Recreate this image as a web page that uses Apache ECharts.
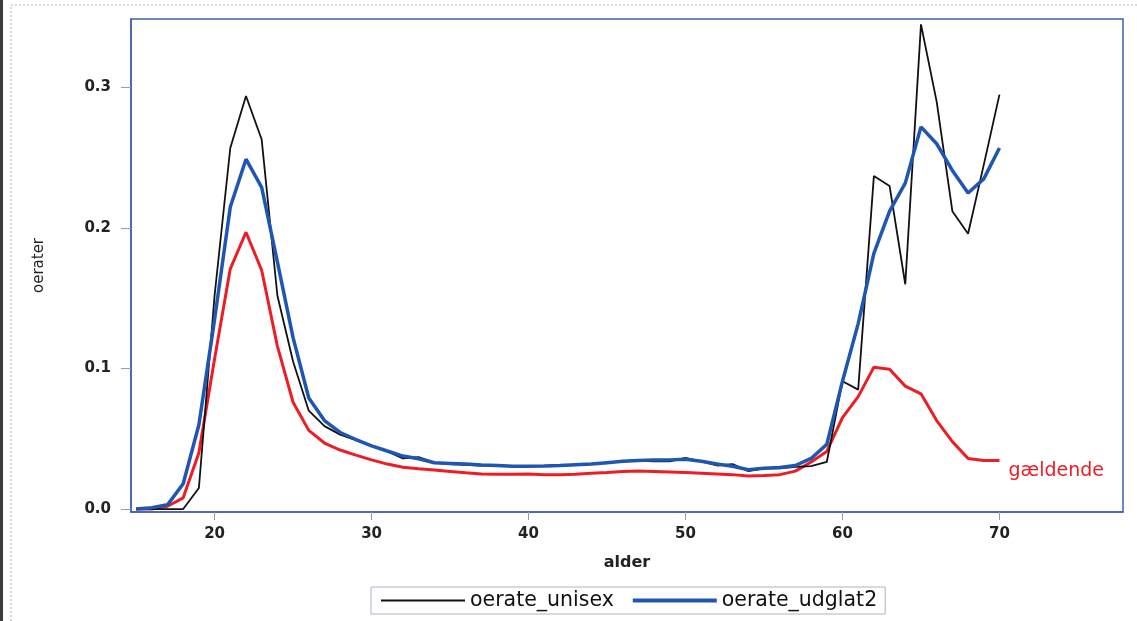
<!DOCTYPE html>
<html>
<head>
<meta charset="utf-8">
<script src="https://cdn.jsdelivr.net/npm/echarts@6/dist/echarts.min.js"></script>
<style>
html,body{margin:0;padding:0;background:#fff;}
#chart{width:1137px;height:621px;}
</style>
</head>
<body>
<div id="chart"></div>
<script>
// ages (x categories)
var ages = [15,16,17,18,19,20,21,22,23,24,25,26,27,28,29,30,31,32,33,34,35,36,37,38,39,40,41,42,43,44,45,46,47,48,49,50,51,52,53,54,55,56,57,58,59,60,61,62,63,64,65,66,67,68,69,70];

var oerateUnisex = [0,0,0,0,0.015,0.152,0.257,0.294,0.263,0.152,0.105,0.070,0.059,0.053,0.049,0.045,0.041,0.036,0.037,0.033,0.032,0.0315,0.031,0.031,0.0305,0.0305,0.0305,0.031,0.0315,0.032,0.033,0.034,0.0345,0.034,0.034,0.0365,0.034,0.031,0.032,0.027,0.029,0.029,0.030,0.0306,0.0335,0.091,0.085,0.237,0.230,0.160,0.345,0.290,0.212,0.196,0.245,0.295];

var oerateUdglat2 = [0,0.001,0.003,0.018,0.060,0.135,0.215,0.249,0.229,0.176,0.122,0.079,0.063,0.0545,0.0495,0.045,0.0413,0.0377,0.0358,0.033,0.0325,0.032,0.0313,0.031,0.0305,0.0305,0.0306,0.031,0.0315,0.032,0.033,0.034,0.0345,0.035,0.035,0.0355,0.034,0.032,0.0305,0.028,0.029,0.0295,0.031,0.036,0.046,0.091,0.132,0.182,0.212,0.232,0.272,0.260,0.241,0.225,0.235,0.257];

var gaeldende = [0,0,0.002,0.008,0.040,0.107,0.171,0.197,0.170,0.116,0.076,0.056,0.047,0.042,0.0384,0.035,0.032,0.0297,0.0287,0.0278,0.0268,0.0258,0.025,0.0247,0.0247,0.025,0.0245,0.0245,0.0247,0.0255,0.026,0.0268,0.027,0.0267,0.0264,0.026,0.0255,0.025,0.0245,0.0235,0.0238,0.0245,0.027,0.0335,0.041,0.065,0.080,0.101,0.0995,0.0875,0.082,0.063,0.048,0.036,0.0345,0.0345];

var xTicks = [20,30,40,50,60,70];
var yTicks = [0,0.1,0.2,0.3];

function pairs(vals){ return ages.map(function(a,i){ return [a, vals[i]]; }); }

var chart = echarts.init(document.getElementById('chart'), null, {renderer:'canvas'});
var axisBlue = '#3f63a5';
var tickCol = '#8c9cc2';
var tickFont = {fontFamily:'DejaVu Sans', fontWeight:'bold', fontSize:15, color:'#222'};

chart.setOption({
  animation:false,
  backgroundColor:'#ffffff',
  graphic:[
    {type:'rect', shape:{x:11,y:5,width:1200,height:700}, style:{fill:'none', stroke:'#a3b2cf', lineWidth:1, lineDash:[2,2]}, silent:true, z:-1},
    {type:'rect', shape:{x:0,y:0,width:3,height:621}, style:{fill:'#3c3c3c'}, silent:true}
  ],
  grid:{left:131, top:19, width:992, height:493, show:true, borderColor:axisBlue, borderWidth:1.5, backgroundColor:'transparent'},
  legend:{
    data:[
      {name:'oerate_unisex', lineStyle:{width:2, color:'#111111'}},
      {name:'oerate_udglat2', lineStyle:{width:4, color:'#1f56b3'}}
    ],
    left:371, top:587,
    padding:[3,8,3,9],
    itemWidth:84, itemHeight:14, itemGap:17,
    itemStyle:{opacity:0},
    borderColor:'#a7b3cc', borderWidth:1,
    textStyle:{fontFamily:'DejaVu Sans', fontSize:20.5, color:'#111'}
  },
  xAxis:{
    type:'value', min:14.675, max:77.87,
    name:'alder', nameLocation:'middle', nameGap:43,
    nameTextStyle:{fontFamily:'DejaVu Sans', fontWeight:'bold', fontSize:16, color:'#222'},
    axisLine:{show:true, onZero:false, lineStyle:{color:axisBlue, width:1.5}},
    axisTick:{show:true, length:8, lineStyle:{color:tickCol}, customValues:xTicks},
    axisLabel:Object.assign({margin:15, customValues:xTicks, formatter:function(v){return String(Math.round(v));}}, tickFont),
    splitLine:{show:false}
  },
  yAxis:{
    type:'value', min:-0.0021, max:0.3488,
    name:'oerater', nameLocation:'middle', nameGap:84,
    nameTextStyle:{fontFamily:'DejaVu Sans', fontSize:15, color:'#222'},
    axisLine:{show:true, onZero:false, lineStyle:{color:axisBlue, width:1.5}},
    axisTick:{show:true, length:10, lineStyle:{color:tickCol}, customValues:yTicks},
    axisLabel:Object.assign({margin:20, customValues:yTicks, formatter:function(v){return v.toFixed(1);}}, tickFont),
    splitLine:{show:false}
  },
  series:[
    {name:'gældende', type:'line', data:pairs(gaeldende), symbol:'none', z:2,
     lineStyle:{color:'#ee1c25', width:3}, itemStyle:{color:'#ee1c25'},
     endLabel:{show:true, formatter:'gældende', distance:9, offset:[0,10], color:'#ee1c25', fontFamily:'DejaVu Sans', fontSize:19}},
    {name:'oerate_unisex', type:'line', data:pairs(oerateUnisex), symbol:'none', z:3,
     lineStyle:{color:'#111111', width:1.8}, itemStyle:{color:'#111111'}},
    {name:'oerate_udglat2', type:'line', data:pairs(oerateUdglat2), symbol:'none', z:4,
     lineStyle:{color:'#1f56b3', width:3.5}, itemStyle:{color:'#1f56b3'}}
  ]
});
</script>
</body>
</html>
